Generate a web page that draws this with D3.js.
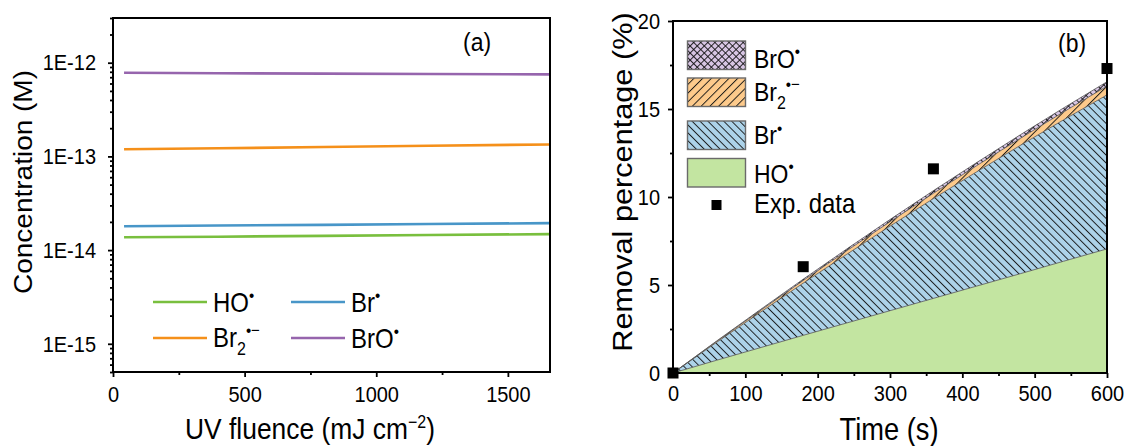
<!DOCTYPE html>
<html><head><meta charset="utf-8">
<script src="https://cdn.jsdelivr.net/npm/d3@7"></script>
<style>
body{margin:0;background:#fff}
svg{display:block}
text{font-family:"Liberation Sans",Arial,sans-serif;fill:#000}
text.st{transform-box:fill-box;transform-origin:50% 50%;transform:scaleY(1.12)}
</style>
</head><body>
<svg id="c" width="1125" height="446"></svg>
<script>
// ---------- Panel (a) data ----------
const fluence = [42, 400, 800, 1200, 1660];
const concHO  = [1.37e-14, 1.39e-14, 1.42e-14, 1.45e-14, 1.48e-14];
const concBr  = [1.80e-14, 1.83e-14, 1.86e-14, 1.90e-14, 1.94e-14];
const concBr2 = [1.19e-13, 1.22e-13, 1.26e-13, 1.30e-13, 1.34e-13];
const concBrO = [7.80e-13, 7.72e-13, 7.65e-13, 7.57e-13, 7.50e-13];
const fluenceTicks = [0, 500, 1000, 1500];
const fluenceMinor = [250, 750, 1250];
const concTicks = [1e-15, 1e-14, 1e-13, 1e-12];
const concTickLabels = ["1E-15", "1E-14", "1E-13", "1E-12"];

// ---------- Panel (b) data ----------
const time   = [0, 60, 120, 180, 240, 300, 360, 420, 480, 540, 600];
const remHO  = [0, 0.72, 1.43, 2.14, 2.84, 3.54, 4.24, 4.94, 5.64, 6.35, 7.05];
const remBr  = [0, 1.015, 2.00, 2.965, 3.90, 4.805, 5.67, 6.495, 7.29, 8.035, 8.75];
const remBr2 = [0, 0.05, 0.10, 0.15, 0.20, 0.25, 0.30, 0.35, 0.40, 0.45, 0.50];
const remBrO = [0, 0.025, 0.05, 0.075, 0.10, 0.125, 0.15, 0.175, 0.20, 0.225, 0.25];
const expTime = [0, 180, 360, 600];
const expRemoval = [0, 6.04, 11.6, 17.3];
const timeTicks = [0, 100, 200, 300, 400, 500, 600];
const timeMinor = [50, 150, 250, 350, 450, 550];
const removalTicks = [0, 5, 10, 15, 20];
const removalMinor = [2.5, 7.5, 12.5, 17.5];

const svg = d3.select("#c");
const defs = svg.append("defs");

function hatch(id, fill, angles, spacing) {
  angles.forEach((a, i) => {
    const p = defs.append("pattern").attr("id", id + (i ? "_" + i : ""))
      .attr("patternUnits", "userSpaceOnUse").attr("width", spacing).attr("height", spacing)
      .attr("patternTransform", `rotate(${a})`);
    if (i === 0) p.append("rect").attr("width", spacing).attr("height", spacing).attr("fill", fill);
    p.append("line").attr("x1", 0.5).attr("y1", 0).attr("x2", 0.5).attr("y2", spacing)
      .attr("stroke", "#111").attr("stroke-width", 0.9);
  });
}
hatch("pBr", "#add3e9", [-45], 5.6);
hatch("pBr2", "#fdca8b", [45], 6.2);
hatch("pBrO", "#d7c5e3", [45, -45], 5.0);

function rich(sel, parts) {
  parts.forEach(p => {
    const t = sel.append("tspan").text(p.t);
    if (p.dy) t.attr("dy", p.dy);
    if (p.size) t.style("font-size", p.size + "px");
  });
}

// ================= Panel (a) =================
const A = {l: 113, r: 550, t: 18, b: 372};
const xa = d3.scaleLinear().domain([0, 1660]).range([A.l, A.r]);
const ya = d3.scaleLog().domain([5e-16, 3e-12]).range([A.b, A.t]);
const gA = svg.append("g");

const logMinor = [];
for (let e = -16; e <= -12; e++) for (let m = 2; m <= 9; m++) {
  const v = m * Math.pow(10, e);
  if (v >= 5e-16 && v <= 3e-12) logMinor.push(v);
}
gA.append("g").attr("transform", `translate(${A.l},0)`)
  .call(d3.axisLeft(ya).tickValues(logMinor).tickSize(3).tickFormat("").tickSizeOuter(0))
  .call(g => g.select(".domain").remove());
gA.append("g").attr("transform", `translate(${A.l},0)`)
  .call(d3.axisLeft(ya).tickValues(concTicks).tickSize(5).tickPadding(12)
    .tickFormat((d, i) => concTickLabels[i]).tickSizeOuter(0))
  .call(g => g.select(".domain").remove());
gA.append("g").attr("transform", `translate(0,${A.b})`)
  .call(d3.axisBottom(xa).tickValues(fluenceMinor).tickSize(3).tickFormat("").tickSizeOuter(0))
  .call(g => g.select(".domain").remove());
gA.append("g").attr("transform", `translate(0,${A.b})`)
  .call(d3.axisBottom(xa).tickValues(fluenceTicks).tickSize(5).tickPadding(10)
    .tickFormat(d3.format("d")).tickSizeOuter(0))
  .call(g => g.select(".domain").remove());

const concSeries = [
  {v: concBrO, c: "#9665ad"},
  {v: concBr2, c: "#f5901a"},
  {v: concBr, c: "#4896c8"},
  {v: concHO, c: "#79bf3e"}
];
const lineA = d3.line().x((d, i) => xa(fluence[i])).y(d => ya(d));
concSeries.forEach(s => {
  gA.append("path").datum(s.v).attr("d", lineA).attr("fill", "none")
    .attr("stroke", s.c).attr("stroke-width", 2.6);
});
gA.append("rect").attr("x", A.l).attr("y", A.t).attr("width", A.r - A.l).attr("height", A.b - A.t)
  .attr("fill", "none").attr("stroke", "#000").attr("stroke-width", 2);

const legA = [
  {c: "#79bf3e", x: 153, y: 302, parts: [{t: "HO"}, {t: "•", dy: -9, size: 15}]},
  {c: "#4896c8", x: 291, y: 302, parts: [{t: "Br"}, {t: "•", dy: -9, size: 15}]},
  {c: "#f5901a", x: 153, y: 338, parts: [{t: "Br"}, {t: "2", dy: 7, size: 16}, {t: "•−", dy: -17, size: 15}]},
  {c: "#9665ad", x: 291, y: 338, parts: [{t: "BrO"}, {t: "•", dy: -9, size: 15}]}
];
legA.forEach(L => {
  gA.append("line").attr("x1", L.x).attr("x2", L.x + 54).attr("y1", L.y).attr("y2", L.y)
    .attr("stroke", L.c).attr("stroke-width", 2.6);
  const t = gA.append("text").attr("class", "st").attr("x", L.x + 60).attr("y", L.y + 8.5).style("font-size", "24px");
  rich(t, L.parts);
});
gA.append("text").attr("class", "st").attr("x", 463).attr("y", 50).style("font-size", "23px").text("(a)");

svg.append("text").attr("transform", `translate(32,182) rotate(-90) scale(1.12,1)`).attr("text-anchor", "middle")
  .style("font-size", "25px").text("Concentration (M)");
const tA = svg.append("text").attr("class", "st").attr("x", 310).attr("y", 438).attr("text-anchor", "middle").style("font-size", "26.4px");
rich(tA, [{t: "UV fluence (mJ cm"}, {t: "−2", dy: -10, size: 16}, {t: ")", dy: 10}]);

// ================= Panel (b) =================
const B = {l: 673, r: 1107, t: 21, b: 373};
const xb = d3.scaleLinear().domain([0, 600]).range([B.l, B.r]);
const yb = d3.scaleLinear().domain([0, 20]).range([B.b, B.t]);
const gB = svg.append("g");

const table = time.map((t, i) => ({t, HO: remHO[i], Br: remBr[i], Br2: remBr2[i], BrO: remBrO[i]}));
const keys = ["HO", "Br", "Br2", "BrO"];
const stacked = d3.stack().keys(keys)(table);
const fills = {HO: "#c3e5a1", Br: "url(#pBr)", Br2: "url(#pBr2)", BrO: "url(#pBrO)"};
const area = d3.area().x(d => xb(d.data.t)).y0(d => yb(d[0])).y1(d => yb(d[1]));
const topLine = d3.line().x(d => xb(d.data.t)).y(d => yb(d[1]));
stacked.forEach(s => {
  gB.append("path").datum(s).attr("d", area).attr("fill", fills[s.key]);
  if (s.key === "BrO") gB.append("path").datum(s).attr("d", area).attr("fill", "url(#pBrO_1)");
});
stacked.forEach(s => {
  gB.append("path").datum(s).attr("d", topLine).attr("fill", "none")
    .attr("stroke", "#555").attr("stroke-width", 0.8);
});

gB.append("g").attr("transform", `translate(${B.l},0)`)
  .call(d3.axisLeft(yb).tickValues(removalMinor).tickSize(3).tickFormat("").tickSizeOuter(0))
  .call(g => g.select(".domain").remove());
gB.append("g").attr("transform", `translate(${B.l},0)`)
  .call(d3.axisLeft(yb).tickValues(removalTicks).tickSize(5).tickPadding(8).tickSizeOuter(0))
  .call(g => g.select(".domain").remove());
gB.append("g").attr("transform", `translate(0,${B.b})`)
  .call(d3.axisBottom(xb).tickValues(timeMinor).tickSize(3).tickFormat("").tickSizeOuter(0))
  .call(g => g.select(".domain").remove());
gB.append("g").attr("transform", `translate(0,${B.b})`)
  .call(d3.axisBottom(xb).tickValues(timeTicks).tickSize(5).tickPadding(8).tickSizeOuter(0))
  .call(g => g.select(".domain").remove());

gB.append("rect").attr("x", B.l).attr("y", B.t).attr("width", B.r - B.l).attr("height", B.b - B.t)
  .attr("fill", "none").attr("stroke", "#000").attr("stroke-width", 2);

gB.selectAll(".exp").data(expTime).enter().append("rect")
  .attr("x", d => xb(d) - 5.5).attr("y", (d, i) => yb(expRemoval[i]) - 5.5)
  .attr("width", 11).attr("height", 11).attr("fill", "#000");

const legB = [
  {f: "url(#pBrO)", f2: "url(#pBrO_1)", y: 41, ty: 66.5, parts: [{t: "BrO"}, {t: "•", dy: -9, size: 15}]},
  {f: "url(#pBr2)", y: 78, ty: 100, parts: [{t: "Br"}, {t: "2", dy: 7, size: 16}, {t: "•−", dy: -17, size: 15}]},
  {f: "url(#pBr)", y: 121, ty: 143, parts: [{t: "Br"}, {t: "•", dy: -9, size: 15}]},
  {f: "#c3e5a1", y: 158.5, ty: 181.5, parts: [{t: "HO"}, {t: "•", dy: -9, size: 15}]}
];
legB.forEach(L => {
  gB.append("rect").attr("x", 687.5).attr("y", L.y).attr("width", 58).attr("height", 28.5).attr("fill", L.f);
  if (L.f2) gB.append("rect").attr("x", 687.5).attr("y", L.y).attr("width", 58).attr("height", 28.5).attr("fill", L.f2);
  gB.append("rect").attr("x", 687.5).attr("y", L.y).attr("width", 58).attr("height", 28.5)
    .attr("fill", "none").attr("stroke", "#6a6a6a").attr("stroke-width", 1.4);
  const t = gB.append("text").attr("class", "st").attr("x", 754).attr("y", L.ty).style("font-size", "23px");
  rich(t, L.parts);
});
gB.append("rect").attr("x", 711.5).attr("y", 200).attr("width", 10).attr("height", 10).attr("fill", "#000");
gB.append("text").attr("class", "st").attr("x", 754).attr("y", 211.5).style("font-size", "24px").text("Exp. data");
gB.append("text").attr("class", "st").attr("x", 1058).attr("y", 51).style("font-size", "23px").text("(b)");

svg.append("text").attr("transform", `translate(632,182) rotate(-90) scale(1.12,1)`).attr("text-anchor", "middle")
  .style("font-size", "27.4px").text("Removal percentage (%)");
svg.append("text").attr("class", "st").attr("x", 889).attr("y", 439).attr("text-anchor", "middle")
  .style("font-size", "27.3px").text("Time (s)");

svg.selectAll(".tick text").attr("class", "st").style("font-size", "20px")
  .style("font-family", "'Liberation Sans',Arial,sans-serif").attr("fill", "#000");
svg.selectAll(".tick line").attr("stroke", "#000").attr("stroke-width", 1.8);
</script>
</body></html>
